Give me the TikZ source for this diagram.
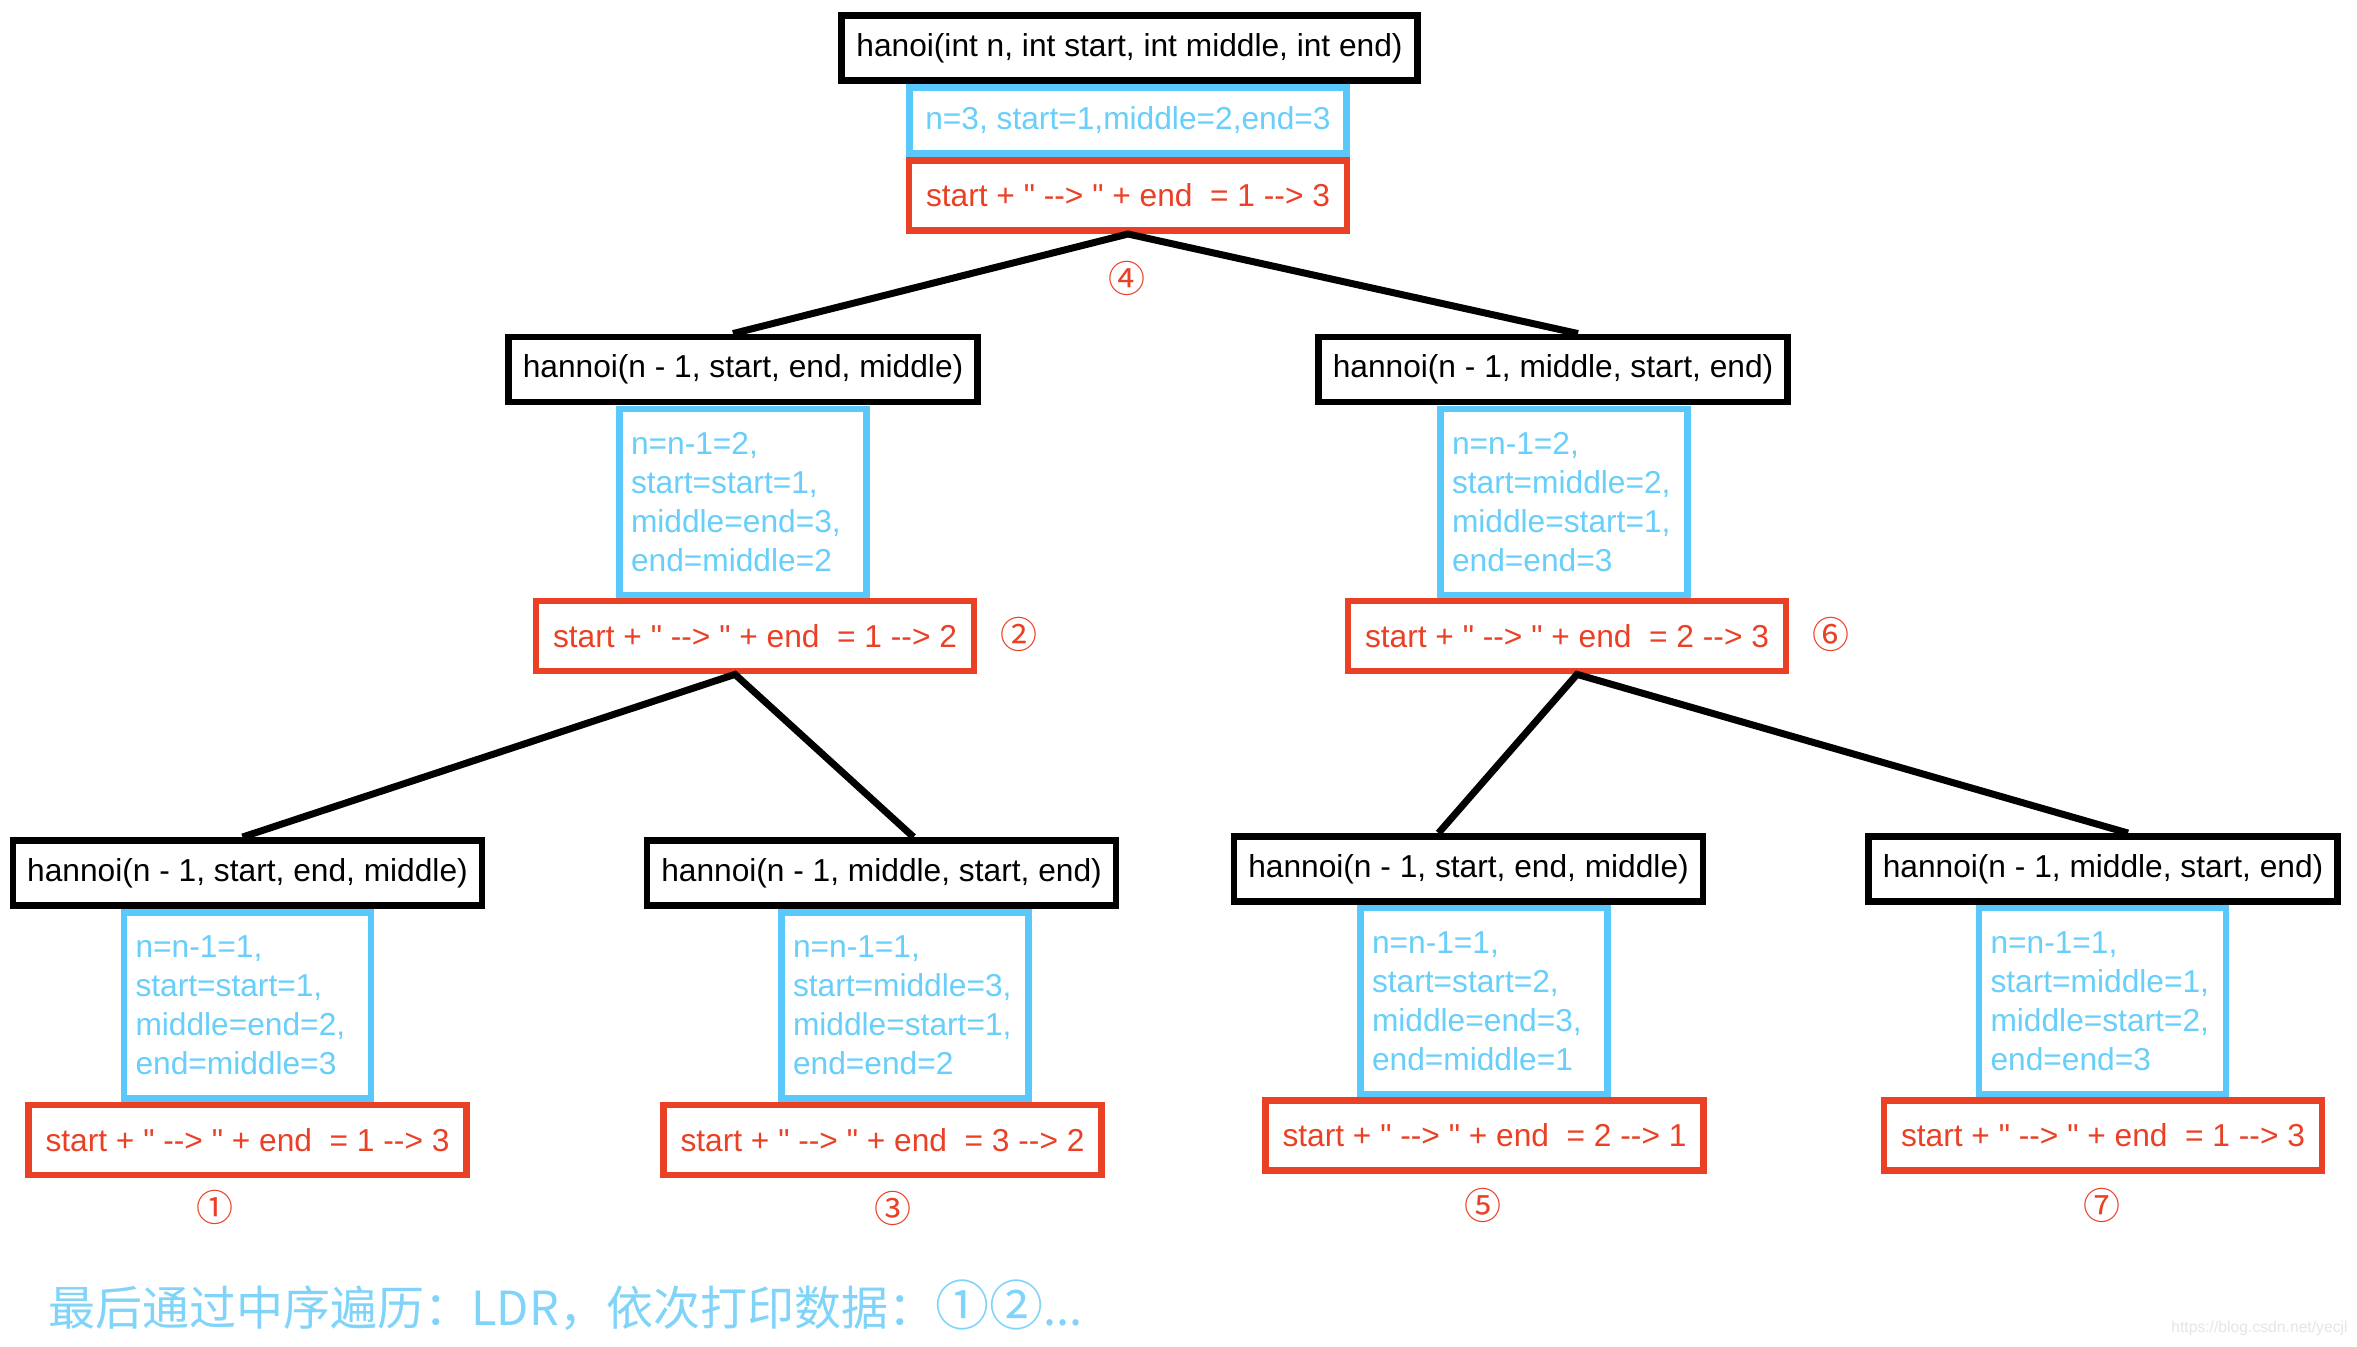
\documentclass[tikz,border=0pt]{standalone}
\usepackage{fontspec}
\setmainfont{Liberation Sans}
\newfontfamily\boxfont{Liberation Sans}
\newfontfamily\cjk{Noto Sans CJK SC}
\usetikzlibrary{calc,positioning}

\definecolor{varblue}{RGB}{90,200,250}
\definecolor{vartext}{RGB}{104,206,250}
\definecolor{movered}{RGB}{234,64,37}
\definecolor{notecyan}{RGB}{128,212,249}

\newcommand{\arw}{-{}->}
\newcommand{\mv}[2]{start + " \arw{} " + end\ \ = #1 \arw{} #2}

\begin{document}
\begin{tikzpicture}[x=0.5pt,y=-0.5pt,
  boxtext/.style={font=\boxfont\fontsize{15.85pt}{19.5pt}\selectfont},
  callbox/.style={boxtext,draw=black,line width=3.35pt,minimum width=234.6pt,minimum height=32.6pt,inner sep=0pt},
  argsbox/.style={boxtext,draw=varblue,text=vartext,line width=3.35pt,minimum width=123.6pt,minimum height=93pt,text width=112pt,align=left,inner xsep=5.8pt,inner ysep=0pt},
  movebox/.style={boxtext,draw=movered,text=movered,line width=3.35pt,minimum width=219pt,minimum height=35pt,inner sep=0pt},
  order/.style={font=\cjk\fontsize{18.5pt}{20pt}\selectfont,text=movered,inner sep=0pt},
  branch/.style={line width=3.5pt,line join=miter}]
\path[use as bounding box,fill=white] (0,0) rectangle (2357,1346);

\node[callbox,minimum width=288.15pt] (call4) at (1129.5,48) {hanoi(int n, int start, int middle, int end)};
\node[boxtext,draw=varblue,text=vartext,line width=3.35pt,minimum width=218.65pt,minimum height=33.15pt,inner sep=0pt] (args4) at (1128,120.5) {n=3, start=1,middle=2,end=3};
\node[movebox,minimum height=35.15pt] (move4) at (1128,195.5) {\mv{1}{3}};

\node[callbox] (call2) at (743,369.5) {hannoi(n - 1, start, end, middle)};
\node[argsbox] (args2) at (743,502) {n=n-1=2,\\start=start=1,\\middle=end=3,\\end=middle=2};
\node[movebox] (move2) at (755,636) {\mv{1}{2}};

\node[callbox] (call6) at (1553,369.5) {hannoi(n - 1, middle, start, end)};
\node[argsbox] (args6) at (1564,502) {n=n-1=2,\\start=middle=2,\\middle=start=1,\\end=end=3};
\node[movebox] (move6) at (1567,636) {\mv{2}{3}};

\node[callbox] (call1) at (247.5,873) {hannoi(n - 1, start, end, middle)};
\node[argsbox] (args1) at (247.5,1005.5) {n=n-1=1,\\start=start=1,\\middle=end=2,\\end=middle=3};
\node[movebox] (move1) at (247.5,1140) {\mv{1}{3}};

\node[callbox] (call3) at (881.5,873) {hannoi(n - 1, middle, start, end)};
\node[argsbox] (args3) at (905,1005.5) {n=n-1=1,\\start=middle=3,\\middle=start=1,\\end=end=2};
\node[movebox] (move3) at (882.5,1140) {\mv{3}{2}};

\node[callbox] (call5) at (1468.5,869) {hannoi(n - 1, start, end, middle)};
\node[argsbox] (args5) at (1484,1001) {n=n-1=1,\\start=start=2,\\middle=end=3,\\end=middle=1};
\node[movebox] (move5) at (1484.5,1135.5) {\mv{2}{1}};

\node[callbox] (call7) at (2103,869) {hannoi(n - 1, middle, start, end)};
\node[argsbox] (args7) at (2102.5,1001) {n=n-1=1,\\start=middle=1,\\middle=start=2,\\end=end=3};
\node[movebox] (move7) at (2103,1135.5) {\mv{1}{3}};

\draw[branch] ([xshift=-5pt]call2.north) -- (move4.south) -- ([xshift=12.5pt]call6.north);
\draw[branch] ([xshift=-2.5pt]call1.north) -- ([xshift=-10pt]move2.south) -- ([xshift=16pt]call3.north);
\draw[branch] ([xshift=-15pt]call5.north) -- ([xshift=5pt]move6.south) -- ([xshift=12.5pt]call7.north);

\foreach \k/\px/\py/\sym in {1/215/1207/①,2/1019/634/②,3/893/1208/③,4/1127/278/④,5/1483/1205/⑤,6/1831/634/⑥,7/2102/1205/⑦}
\node[order] (num\k) at (\px,\py) {\sym};

\node[anchor=west,text=notecyan,font=\cjk\fontsize{23.5pt}{28pt}\selectfont,inner sep=0pt] (note) at (48,1305) {最后通过中序遍历：LDR，依次打印数据：{\fontsize{27pt}{28pt}\selectfont ①②}...};
\node[anchor=east,text=black!10,font=\fontsize{7.85pt}{9pt}\selectfont,inner sep=0pt] (mark) at (2348,1328) {https://blog.csdn.net/yecjl};
\end{tikzpicture}
\end{document}
